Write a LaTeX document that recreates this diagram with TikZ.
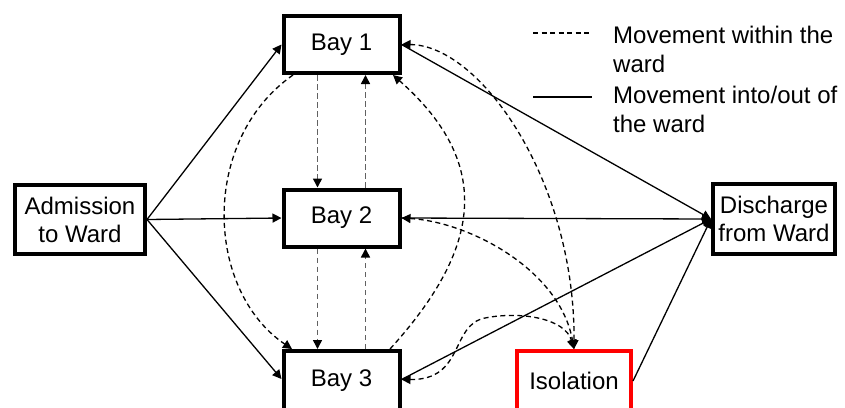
\documentclass[tikz,border=0pt]{standalone}
\usepackage{fontspec}
\setmainfont{Liberation Sans}
\usetikzlibrary{arrows.meta}
\begin{document}
\begin{tikzpicture}[x=1pt,y=-1pt,
  box/.style={draw=black, line width=4pt, inner sep=0pt, align=center,
    font=\fontsize{24}{28}\selectfont},
  baybox/.style={box, minimum width=116pt, minimum height=57pt},
  tip/.style={-{Triangle[length=9pt,width=9pt]}},
  both/.style={{Triangle[length=9pt,width=9pt]}-{Triangle[length=9pt,width=9pt]}},
  greytip/.style={-{Triangle[length=9pt,width=9pt,color=black]}},
  inward/.style={line width=1.3pt, dash pattern=on 5pt off 3.5pt},
  greyline/.style={line width=1.5pt, dash pattern=on 5.5pt off 3.5pt, draw=black!62},
  outward/.style={line width=1.3pt},
  legtext/.style={anchor=base west, inner sep=0pt, font=\fontsize{24}{28}\selectfont}]

\useasboundingbox (0,0) rectangle (845,407);
\clip (0,0) rectangle (845,407);

% boxes (the lower row runs past the bottom edge)
\node[baybox] (b1) at (341.5,44.5) {Bay 1};
\node[baybox] (b2) at (341.5,218) {Bay 2};
\node[baybox, minimum height=60pt] (b3) at (341.5,381) {Bay 3};
\node[box, minimum width=130pt, minimum height=69pt] (adm) at (80,219.5) {Admission\\to Ward};
\node[box, minimum width=122pt, minimum height=70pt] (dis) at (774,219) {Discharge\\from Ward};
\node[box, draw=red, minimum width=114pt, minimum height=60pt] (iso) at (574,381) {Isolation};

% legend
\coordinate (l1a) at (533,33);
\coordinate (l1b) at (592,33);
\coordinate (l2a) at (533,97);
\coordinate (l2b) at (592,97);
\draw[inward] (l1a) -- (l1b);
\draw[outward] (l2a) -- (l2b);
\node[legtext] (t1) at (613,43) {Movement within the};
\node[legtext] (t2) at (613,72) {ward};
\node[legtext] (t3) at (613,103) {Movement into/out of};
\node[legtext] (t4) at (613,132) {the ward};

% admissions
\draw[outward,tip] (adm.east) -- (b1.west);
\draw[outward,tip] (adm.east) -- (b2.west);
\draw[outward,tip] (adm.east) -- ([yshift=2pt]b3.west);

% discharges
\draw[outward,tip] (b1.east) -- (dis.west);
\draw[outward,tip] (b2.east) -- (dis.west);
\draw[outward,tip] ([yshift=1.5pt]b3.east) -- (dis.west);
\draw[outward,tip] (iso.east) -- (dis.west);

% moves between neighbouring bays
\draw[greyline,greytip] ([xshift=-24pt]b1.south) -- ([xshift=-24pt]b2.north);
\draw[greyline,greytip] ([xshift=24pt]b2.north) -- ([xshift=24pt]b1.south);
\draw[greyline,greytip] ([xshift=-24pt]b2.south) -- ([xshift=-24pt]b3.north);
\draw[greyline,greytip] ([xshift=24pt]b3.north) -- ([xshift=24pt]b2.south);

% moves between Bay 1 and Bay 3
\draw[inward,tip] ([xshift=-48.5pt]b1.south) .. controls (200,140) and (205,290) .. ([xshift=-49.5pt]b3.north);
\draw[inward,tip] ([xshift=48.5pt]b3.north) .. controls (480,250) and (495,165) .. ([xshift=51.5pt]b1.south);

% moves to and from isolation
\draw[inward,both] (b1.east) .. controls (480,45) and (575,180) .. (iso.north);
\draw[inward,both] (b2.east) .. controls (470,222) and (560,270) .. (iso.north);
\draw[inward,both] ([yshift=1.5pt]b3.east) .. controls (465,380) and (450,325) .. (485,318)
  .. controls (520,311) and (565,318) .. (iso.north);
\end{tikzpicture}
\end{document}
